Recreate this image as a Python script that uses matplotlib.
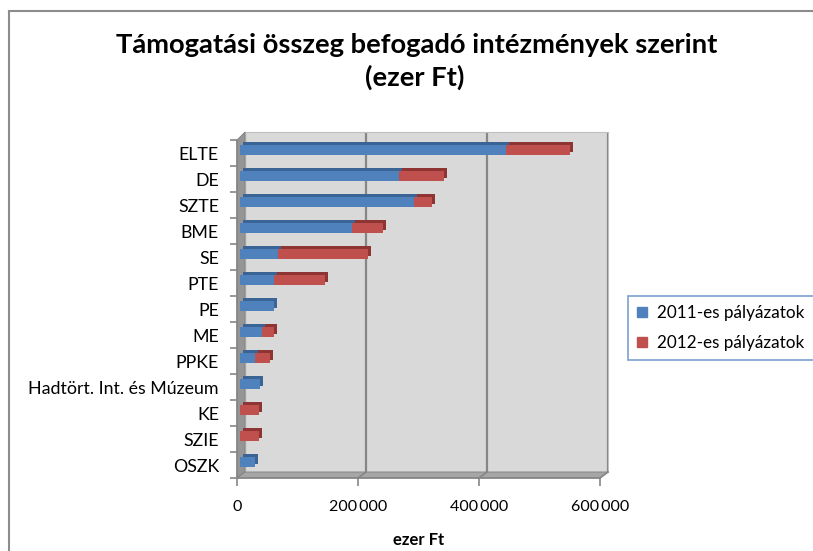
import matplotlib
matplotlib.use("Agg")
import matplotlib.pyplot as plt
import matplotlib.transforms as mtransforms
from matplotlib.patches import Polygon, Patch
from matplotlib.lines import Line2D
from matplotlib.ticker import FuncFormatter

plt.rcParams['font.family'] = ['Lato', 'DejaVu Sans']

# data (ezer Ft), top to bottom as in the chart
categories = ['ELTE', 'DE', 'SZTE', 'BME', 'SE', 'PTE', 'PE', 'ME', 'PPKE',
              'Hadtört. Int. és Múzeum', 'KE', 'SZIE', 'OSZK']
palyazat_2011 = [440000, 263000, 287000, 185000, 63000, 56000, 57000, 36000,
                 24000, 33000, 0, 0, 24000]
palyazat_2012 = [105000, 75000, 30000, 52000, 149000, 84000, 0, 21000,
                 26000, 0, 32000, 32000, 0]
series_names = ['2011-es pályázatok', '2012-es pályázatok']
x_ticks = [0, 200000, 400000, 600000]

W, H = 813, 551
blue, blue_dark = '#4F81BD', '#3A6396'
red, red_dark = '#C0504D', '#8E3533'
gray_line = '#868686'


def box(left, top, right, bottom):
    # pixel box (y measured from top) -> figure fractions
    return [left / W, 1 - bottom / H, (right - left) / W, (bottom - top) / H]


def px(x, y):
    return (x / W, 1 - y / H)


fig = plt.figure(figsize=(W / 100, H / 100), dpi=100)

# chart area border (top and left only visible)
fig.add_artist(Line2D([px(9, 11)[0], 1], [px(9, 11)[1]] * 2,
                      transform=fig.transFigure, color='#8C8C8C', lw=1.5))
fig.add_artist(Line2D([px(9, 11)[0]] * 2, [px(9, 11)[1], 0],
                      transform=fig.transFigure, color='#8C8C8C', lw=1.5))

n = len(categories)
ypos = [n - 1 - i for i in range(n)]

# back wall with gridlines
ax_back = fig.add_axes(box(245, 132, 608, 472))
ax_back.set_zorder(-2)
ax_back.set_facecolor('#D9D9D9')
ax_back.set_xlim(0, 600000)
ax_back.set_ylim(-0.5, n - 0.5)
ax_back.set_xticks(x_ticks)
ax_back.tick_params(left=False, bottom=False, labelleft=False, labelbottom=False)
ax_back.grid(axis='x', color=gray_line, lw=1.6)
for s in ax_back.spines.values():
    s.set_color('#BFBFBF')
    s.set_linewidth(0.8)

# side wall and floor
fig.add_artist(Polygon([px(237, 140), px(245, 132), px(245, 472), px(237, 478)],
                       closed=True, transform=fig.transFigure, zorder=-1,
                       facecolor='#959595', edgecolor='#7F7F7F', lw=0.6))
fig.add_artist(Polygon([px(237, 478), px(245, 472), px(608, 472), px(600, 478)],
                       closed=True, transform=fig.transFigure, zorder=-1,
                       facecolor='#A6A6A6', edgecolor='#7F7F7F', lw=0.6))

# front axes: ticks and labels
ax_front = fig.add_axes(box(237, 140, 600, 478))
ax_front.set_zorder(-0.5)
ax_front.patch.set_visible(False)
ax_front.set_xlim(0, 600000)
ax_front.set_ylim(-0.5, n - 0.5)
ax_front.set_xticks(x_ticks)
ax_front.xaxis.set_major_formatter(
    FuncFormatter(lambda v, p: f'{int(v):,}'.replace(',', '\u2009')))
ax_front.set_yticks(ypos)
ax_front.set_yticklabels(categories)
ax_front.set_yticks([k - 0.5 for k in range(n + 1)], minor=True)
ax_front.tick_params(axis='y', which='major', length=0, pad=13, labelsize=12.8)
ax_front.tick_params(axis='y', which='minor', length=5, color=gray_line, width=1.2)
ax_front.tick_params(axis='x', length=6, color=gray_line, width=1.2,
                     labelsize=11.5, pad=10)
for side in ['top', 'right']:
    ax_front.spines[side].set_visible(False)
for side in ['left', 'bottom']:
    ax_front.spines[side].set_color(gray_line)
    ax_front.spines[side].set_linewidth(1.2)
ax_front.set_xlabel('ezer Ft', fontsize=12, fontweight='bold', labelpad=13)

# floor lines from front ticks back to gridlines
for v in x_ticks[1:]:
    xf = ax_front.transData.transform((v, 0))[0]
    xb = ax_back.transData.transform((v, 0))[0]
    fig.add_artist(Line2D([xf / W, xb / W], [px(0, 478)[1], px(0, 472)[1]],
                          transform=fig.transFigure, color=gray_line, lw=1.2,
                          zorder=-1))

# bars in the middle plane
ax = fig.add_axes(box(240, 137, 603, 475))
ax.patch.set_visible(False)
ax.set_xlim(0, 600000)
ax.set_ylim(-0.5, n - 0.5)
ax.axis('off')
h = 0.38
depth = ax.transData + mtransforms.ScaledTranslation(0.03, 0.03, fig.dpi_scale_trans)
ax.barh(ypos, palyazat_2011, height=h, color=blue_dark, transform=depth, zorder=1)
ax.barh(ypos, palyazat_2012, left=palyazat_2011, height=h, color=red_dark,
        transform=depth, zorder=1)
ax.barh(ypos, palyazat_2011, height=h, color=blue, zorder=2)
ax.barh(ypos, palyazat_2012, left=palyazat_2011, height=h, color=red, zorder=2)

# title
fig.text(417 / W, 1 - 45 / H, 'Támogatási összeg befogadó intézmények szerint',
         ha='center', va='center', fontsize=19.7, fontweight='bold')
fig.text(415 / W, 1 - 77 / H, '(ezer Ft)',
         ha='center', va='center', fontsize=19.7, fontweight='bold')

# legend
handles = [Patch(facecolor=blue, edgecolor=blue),
           Patch(facecolor=red, edgecolor=red)]
leg = fig.legend(handles, series_names, loc='center',
                 bbox_to_anchor=(721 / W, 1 - 328 / H), fontsize=12.3,
                 frameon=True, fancybox=False, handlelength=0.55,
                 handleheight=0.55, handletextpad=0.6, labelspacing=0.8,
                 borderpad=0.55, borderaxespad=0)
leg.get_frame().set_edgecolor('#5B87C5')
leg.get_frame().set_linewidth(1.2)

fig.savefig('out.png', dpi=100)
